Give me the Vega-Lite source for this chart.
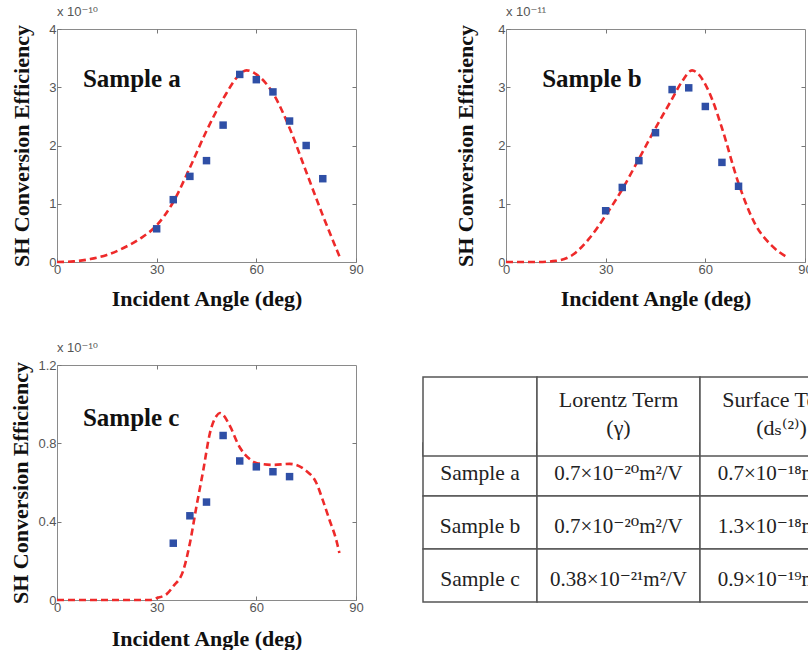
{
  "$schema": "https://vega.github.io/schema/vega-lite/v6.json",
  "padding": {"left": 9, "top": 5, "right": 0, "bottom": 0},
  "background": "white",
  "config": {
    "view": {"stroke": "#8a8a8a", "strokeWidth": 1},
    "axis": {"grid": false, "domain": false, "tickColor": "#777", "tickSize": -4, "tickWidth": 1, "labelFont": "Liberation Sans", "labelFontSize": 13, "labelColor": "#555", "labelPadding": 5, "labelFlush": false, "titleFont": "Liberation Serif", "titleFontSize": 22, "titleFontWeight": "bold", "titleColor": "#111", "titlePadding": 10},
    "axisX": {"titlePadding": 12},
    "title": {"font": "Liberation Sans, DejaVu Sans", "fontSize": 13, "fontWeight": "normal", "color": "#555", "anchor": "start", "offset": 4, "frame": "group"}
  },
  "datasets": {
    "curveA": [{"angle":0,"eff":0},{"angle":5,"eff":0.01},{"angle":10,"eff":0.05},{"angle":15,"eff":0.12},{"angle":20,"eff":0.24},{"angle":25,"eff":0.4},{"angle":30,"eff":0.63},{"angle":35,"eff":1.03},{"angle":40,"eff":1.62},{"angle":45,"eff":2.25},{"angle":50,"eff":2.8},{"angle":55,"eff":3.22},{"angle":57,"eff":3.29},{"angle":60,"eff":3.22},{"angle":65,"eff":2.9},{"angle":70,"eff":2.3},{"angle":75,"eff":1.55},{"angle":80,"eff":0.8},{"angle":85,"eff":0.1}],
    "pointsA": [{"angle":30,"eff":0.57},{"angle":35,"eff":1.07},{"angle":40,"eff":1.47},{"angle":45,"eff":1.74},{"angle":50,"eff":2.35},{"angle":55,"eff":3.22},{"angle":60,"eff":3.13},{"angle":65,"eff":2.92},{"angle":70,"eff":2.42},{"angle":75,"eff":2.0},{"angle":80,"eff":1.43}],
    "curveB": [{"angle":0,"eff":0},{"angle":5,"eff":0},{"angle":10,"eff":0},{"angle":15,"eff":0.02},{"angle":20,"eff":0.12},{"angle":25,"eff":0.4},{"angle":30,"eff":0.8},{"angle":35,"eff":1.25},{"angle":40,"eff":1.77},{"angle":45,"eff":2.3},{"angle":50,"eff":2.8},{"angle":53,"eff":3.1},{"angle":56,"eff":3.29},{"angle":58,"eff":3.22},{"angle":60,"eff":3.05},{"angle":62,"eff":2.8},{"angle":65,"eff":2.3},{"angle":70,"eff":1.35},{"angle":75,"eff":0.65},{"angle":80,"eff":0.28},{"angle":85,"eff":0.07}],
    "pointsB": [{"angle":30,"eff":0.88},{"angle":35,"eff":1.28},{"angle":40,"eff":1.74},{"angle":45,"eff":2.22},{"angle":50,"eff":2.96},{"angle":55,"eff":2.99},{"angle":60,"eff":2.67},{"angle":65,"eff":1.71},{"angle":70,"eff":1.3}],
    "curveC": [{"angle":0,"eff":0},{"angle":10,"eff":0},{"angle":20,"eff":0},{"angle":28,"eff":0},{"angle":30,"eff":0.01},{"angle":33,"eff":0.03},{"angle":35,"eff":0.07},{"angle":38,"eff":0.15},{"angle":40,"eff":0.29},{"angle":42,"eff":0.48},{"angle":44,"eff":0.66},{"angle":46,"eff":0.85},{"angle":48,"eff":0.94},{"angle":49,"eff":0.955},{"angle":50,"eff":0.945},{"angle":52,"eff":0.89},{"angle":55,"eff":0.78},{"angle":58,"eff":0.72},{"angle":60,"eff":0.7},{"angle":65,"eff":0.69},{"angle":70,"eff":0.695},{"angle":75,"eff":0.66},{"angle":78,"eff":0.6},{"angle":80,"eff":0.51},{"angle":82,"eff":0.41},{"angle":84,"eff":0.31},{"angle":85,"eff":0.24}],
    "pointsC": [{"angle":35,"eff":0.29},{"angle":40,"eff":0.43},{"angle":45,"eff":0.5},{"angle":50,"eff":0.84},{"angle":55,"eff":0.71},{"angle":60,"eff":0.68},{"angle":65,"eff":0.655},{"angle":70,"eff":0.63}],
    "table": [
      {"row":"h","col":"c1","text":""},
      {"row":"h","col":"c2","text":"Lorentz Term\n(γ)"},
      {"row":"h","col":"c3","text":"Surface Term\n(dₛ⁽²⁾)"},
      {"row":"a","col":"c1","text":"Sample a"},
      {"row":"b","col":"c1","text":"Sample b"},
      {"row":"c","col":"c1","text":"Sample c"},
      {"row":"a","col":"c2","text":"0.7×10⁻²⁰m²/V"},
      {"row":"b","col":"c2","text":"0.7×10⁻²⁰m²/V"},
      {"row":"c","col":"c2","text":"0.38×10⁻²¹m²/V"},
      {"row":"a","col":"c3","text":"0.7×10⁻¹⁸m²/V"},
      {"row":"b","col":"c3","text":"1.3×10⁻¹⁸m²/V"},
      {"row":"c","col":"c3","text":"0.9×10⁻¹⁹m²/V"}
    ]
  },
  "spacing": 31,
  "vconcat": [
    {
      "spacing": 150,
      "bounds": "flush",
      "hconcat": [
        {
          "width": 299, "height": 233,
          "title": {"text": "x 10⁻¹⁰"},
          "layer": [
            {"data": {"name": "curveA"}, "mark": {"type": "line", "color": "#ee2a2a", "strokeWidth": 2.6, "strokeDash": [7, 4], "interpolate": "monotone"},
             "encoding": {"x": {"field": "angle", "type": "quantitative", "scale": {"domain": [0, 90], "nice": false}, "axis": {"values": [0, 30, 60, 90], "title": "Incident Angle (deg)"}},
                          "y": {"field": "eff", "type": "quantitative", "scale": {"domain": [0, 4], "nice": false}, "axis": {"values": [0, 1, 2, 3, 4], "title": "SH Conversion Efficiency", "titlePadding": 15}}}},
            {"data": {"name": "pointsA"}, "mark": {"type": "square", "size": 56, "color": "#2f4fa6", "opacity": 1},
             "encoding": {"x": {"field": "angle", "type": "quantitative", "axis": null}, "y": {"field": "eff", "type": "quantitative", "axis": null}}},
            {"data": {"name": "pointsA"}, "mark": {"type": "point", "opacity": 0},
             "encoding": {"x": {"field": "angle", "type": "quantitative", "axis": {"orient": "top", "labels": false, "title": null, "values": [30, 60]}}, "y": {"field": "eff", "type": "quantitative", "axis": {"orient": "right", "labels": false, "title": null, "values": [1, 2, 3]}}}},
            {"data": {"values": [{"label": "Sample a"}]}, "mark": {"type": "text", "font": "Liberation Serif", "fontSize": 25, "fontWeight": "bold", "color": "#111", "align": "left", "baseline": "alphabetic"},
             "encoding": {"x": {"datum": 7.8, "type": "quantitative", "axis": null}, "y": {"datum": 3.0, "type": "quantitative", "axis": null}, "text": {"field": "label"}}}
          ],
          "resolve": {"axis": {"x": "independent", "y": "independent"}}
        },
        {
          "width": 299, "height": 233,
          "title": {"text": "x 10⁻¹¹"},
          "layer": [
            {"data": {"name": "curveB"}, "mark": {"type": "line", "color": "#ee2a2a", "strokeWidth": 2.6, "strokeDash": [7, 4], "interpolate": "monotone"},
             "encoding": {"x": {"field": "angle", "type": "quantitative", "scale": {"domain": [0, 90], "nice": false}, "axis": {"values": [0, 30, 60, 90], "title": "Incident Angle (deg)"}},
                          "y": {"field": "eff", "type": "quantitative", "scale": {"domain": [0, 4], "nice": false}, "axis": {"values": [0, 1, 2, 3, 4], "title": "SH Conversion Efficiency", "titlePadding": 20}}}},
            {"data": {"name": "pointsB"}, "mark": {"type": "square", "size": 56, "color": "#2f4fa6", "opacity": 1},
             "encoding": {"x": {"field": "angle", "type": "quantitative", "axis": null}, "y": {"field": "eff", "type": "quantitative", "axis": null}}},
            {"data": {"name": "pointsB"}, "mark": {"type": "point", "opacity": 0},
             "encoding": {"x": {"field": "angle", "type": "quantitative", "axis": {"orient": "top", "labels": false, "title": null, "values": [30, 60]}}, "y": {"field": "eff", "type": "quantitative", "axis": {"orient": "right", "labels": false, "title": null, "values": [1, 2, 3]}}}},
            {"data": {"values": [{"label": "Sample b"}]}, "mark": {"type": "text", "font": "Liberation Serif", "fontSize": 25, "fontWeight": "bold", "color": "#111", "align": "left", "baseline": "alphabetic"},
             "encoding": {"x": {"datum": 10.9, "type": "quantitative", "axis": null}, "y": {"datum": 3.0, "type": "quantitative", "axis": null}, "text": {"field": "label"}}}
          ],
          "resolve": {"axis": {"x": "independent", "y": "independent"}}
        }
      ]
    },
    {
      "spacing": 0,
      "bounds": "flush",
      "hconcat": [
        {
          "width": 299, "height": 235,
          "title": {"text": "x 10⁻¹⁰"},
          "layer": [
            {"data": {"name": "curveC"}, "mark": {"type": "line", "color": "#ee2a2a", "strokeWidth": 2.6, "strokeDash": [7, 4], "interpolate": "monotone"},
             "encoding": {"x": {"field": "angle", "type": "quantitative", "scale": {"domain": [0, 90], "nice": false}, "axis": {"values": [0, 30, 60, 90], "title": "Incident Angle (deg)", "titlePadding": 14}},
                          "y": {"field": "eff", "type": "quantitative", "scale": {"domain": [0, 1.2], "nice": false}, "axis": {"values": [0, 0.4, 0.8, 1.2], "format": ".1~f", "title": "SH Conversion Efficiency", "titlePadding": 5}}}},
            {"data": {"name": "pointsC"}, "mark": {"type": "square", "size": 56, "color": "#2f4fa6", "opacity": 1},
             "encoding": {"x": {"field": "angle", "type": "quantitative", "axis": null}, "y": {"field": "eff", "type": "quantitative", "axis": null}}},
            {"data": {"name": "pointsC"}, "mark": {"type": "point", "opacity": 0},
             "encoding": {"x": {"field": "angle", "type": "quantitative", "axis": {"orient": "top", "labels": false, "title": null, "values": [30, 60]}}, "y": {"field": "eff", "type": "quantitative", "axis": {"orient": "right", "labels": false, "title": null, "values": [0.4, 0.8]}}}},
            {"data": {"values": [{"label": "Sample c"}]}, "mark": {"type": "text", "font": "Liberation Serif", "fontSize": 25, "fontWeight": "bold", "color": "#111", "align": "left", "baseline": "alphabetic"},
             "encoding": {"x": {"datum": 7.8, "type": "quantitative", "axis": null}, "y": {"datum": 0.89, "type": "quantitative", "axis": null}, "text": {"field": "label"}}}
          ],
          "resolve": {"axis": {"x": "independent", "y": "independent"}}
        },
        {
          "width": 181, "height": 237, "view": {"stroke": null},
          "data": {"name": "table"}, "transform": [{"filter": "datum.col == 'c1'"}],
          "encoding": {"x": {"field": "col", "type": "nominal", "axis": null, "scale": {"domain": ["c1"], "paddingInner": 0, "paddingOuter": 0.2939, "align": 1}}},
          "layer": [
            {"transform": [{"filter": "datum.row != 'h'"}],
             "encoding": {"y": {"field": "row", "type": "nominal", "axis": null, "scale": {"domain": ["a", "b", "c"], "paddingInner": 0, "paddingOuter": 0.7358, "align": 1}}},
             "layer": [{"mark": {"type": "rect", "fill": "white", "stroke": "#555", "strokeWidth": 1.5}},
                       {"mark": {"type": "text", "font": "Liberation Serif, DejaVu Serif", "fontSize": 21.5, "color": "#222", "dy": 5}, "encoding": {"text": {"field": "text"}}}]},
            {"transform": [{"filter": "datum.row == 'h'"}],
             "encoding": {"y": {"field": "row", "type": "nominal", "axis": null, "scale": {"domain": ["h"], "paddingInner": 0, "paddingOuter": 1.323, "align": 0.0756}}},
             "layer": [{"mark": {"type": "rect", "fill": "white", "stroke": "#555", "strokeWidth": 1.5}},
                       {"mark": {"type": "text", "font": "Liberation Serif, DejaVu Serif", "fontSize": 22, "lineBreak": "\n", "lineHeight": 28, "color": "#222", "dy": -16}, "encoding": {"text": {"field": "text"}}}]}
          ],
          "resolve": {"scale": {"y": "independent"}}
        },
        {
          "width": 163, "height": 237, "view": {"stroke": null},
          "data": {"name": "table"}, "transform": [{"filter": "datum.col == 'c2'"}],
          "layer": [
            {"transform": [{"filter": "datum.row != 'h'"}],
             "encoding": {"y": {"field": "row", "type": "nominal", "axis": null, "scale": {"domain": ["a", "b", "c"], "paddingInner": 0, "paddingOuter": 0.7358, "align": 1}}},
             "layer": [{"mark": {"type": "rect", "fill": "white", "stroke": "#555", "strokeWidth": 1.5}},
                       {"mark": {"type": "text", "font": "Liberation Serif, DejaVu Serif", "fontSize": 21, "color": "#222", "dy": 5}, "encoding": {"text": {"field": "text"}}}]},
            {"transform": [{"filter": "datum.row == 'h'"}],
             "encoding": {"y": {"field": "row", "type": "nominal", "axis": null, "scale": {"domain": ["h"], "paddingInner": 0, "paddingOuter": 1.323, "align": 0.0756}}},
             "layer": [{"mark": {"type": "rect", "fill": "white", "stroke": "#555", "strokeWidth": 1.5}},
                       {"mark": {"type": "text", "font": "Liberation Serif, DejaVu Serif", "fontSize": 22, "lineBreak": "\n", "lineHeight": 28, "color": "#222", "dy": -16}, "encoding": {"text": {"field": "text"}}}]}
          ],
          "resolve": {"scale": {"y": "independent"}}
        },
        {
          "width": 163, "height": 237, "view": {"stroke": null},
          "data": {"name": "table"}, "transform": [{"filter": "datum.col == 'c3'"}],
          "layer": [
            {"transform": [{"filter": "datum.row != 'h'"}],
             "encoding": {"y": {"field": "row", "type": "nominal", "axis": null, "scale": {"domain": ["a", "b", "c"], "paddingInner": 0, "paddingOuter": 0.7358, "align": 1}}},
             "layer": [{"mark": {"type": "rect", "fill": "white", "stroke": "#555", "strokeWidth": 1.5}},
                       {"mark": {"type": "text", "font": "Liberation Serif, DejaVu Serif", "fontSize": 21, "color": "#222", "dy": 5}, "encoding": {"text": {"field": "text"}}}]},
            {"transform": [{"filter": "datum.row == 'h'"}],
             "encoding": {"y": {"field": "row", "type": "nominal", "axis": null, "scale": {"domain": ["h"], "paddingInner": 0, "paddingOuter": 1.323, "align": 0.0756}}},
             "layer": [{"mark": {"type": "rect", "fill": "white", "stroke": "#555", "strokeWidth": 1.5}},
                       {"mark": {"type": "text", "font": "Liberation Serif, DejaVu Serif", "fontSize": 22, "lineBreak": "\n", "lineHeight": 28, "color": "#222", "dy": -16}, "encoding": {"text": {"field": "text"}}}]}
          ],
          "resolve": {"scale": {"y": "independent"}}
        }
      ]
    }
  ]
}
